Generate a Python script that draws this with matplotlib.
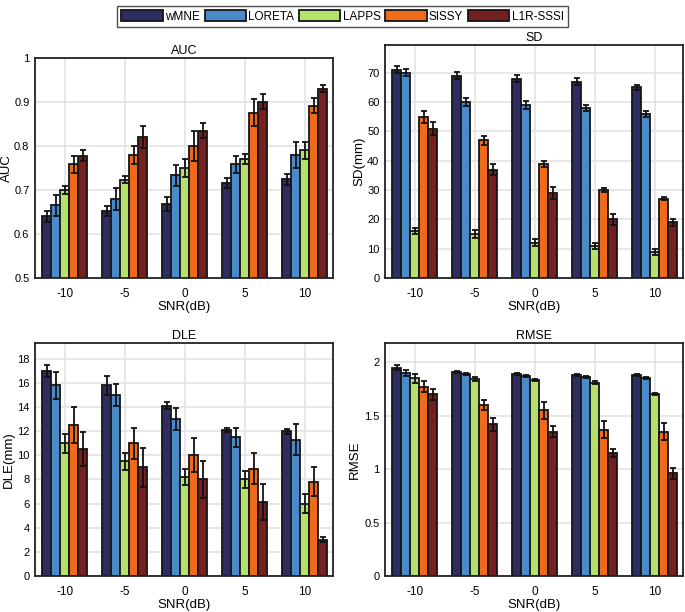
import numpy as np
import matplotlib
matplotlib.use("Agg")
import matplotlib.pyplot as plt
from matplotlib.patches import Patch

plt.rcParams['font.family'] = ['Liberation Sans', 'DejaVu Sans']
plt.rcParams['font.size'] = 8

methods = ["wMNE", "LORETA", "LAPPS", "SISSY", "L1R-SSSI"]
colors = ["#2d2d63", "#4a8ac8", "#b4e06b", "#f06a1c", "#761f1f"]
snr = ["-10", "-5", "0", "5", "10"]

# rows = methods, columns = SNR levels
auc = [[0.640, 0.652, 0.668, 0.716, 0.724],
       [0.665, 0.680, 0.733, 0.758, 0.780],
       [0.700, 0.723, 0.750, 0.770, 0.790],
       [0.758, 0.780, 0.800, 0.876, 0.892],
       [0.778, 0.820, 0.835, 0.901, 0.930]]
auc_err = [[0.012, 0.012, 0.015, 0.012, 0.013],
           [0.023, 0.025, 0.023, 0.020, 0.030],
           [0.008, 0.008, 0.020, 0.012, 0.020],
           [0.020, 0.020, 0.035, 0.030, 0.018],
           [0.012, 0.025, 0.017, 0.018, 0.008]]

sd = [[71, 69, 68, 67, 65],
      [70, 60, 59, 58, 56],
      [16, 15, 12, 11, 9],
      [55, 47, 39, 30, 27],
      [51, 37, 29, 20, 19]]
sd_err = [[1.2, 1.2, 1.2, 1.2, 1.0],
          [1.2, 1.3, 1.3, 1.0, 1.0],
          [1.0, 1.5, 1.2, 1.0, 1.0],
          [2.0, 1.5, 1.0, 0.8, 0.5],
          [2.2, 1.8, 2.2, 2.0, 1.2]]

dle = [[17.0, 15.8, 14.1, 12.1, 12.0],
       [15.8, 15.0, 13.0, 11.5, 11.3],
       [11.0, 9.5, 8.2, 8.0, 6.0],
       [12.5, 11.0, 10.0, 8.9, 7.8],
       [10.5, 9.0, 8.0, 6.1, 3.0]]
dle_err = [[0.5, 0.8, 0.3, 0.2, 0.2],
           [1.1, 0.9, 0.9, 0.8, 1.3],
           [0.8, 0.7, 0.7, 0.7, 0.8],
           [1.5, 1.3, 1.4, 1.3, 1.2],
           [1.4, 1.6, 1.5, 1.5, 0.2]]

rmse = [[1.95, 1.91, 1.89, 1.88, 1.88],
        [1.90, 1.89, 1.87, 1.86, 1.85],
        [1.85, 1.84, 1.83, 1.81, 1.70],
        [1.77, 1.60, 1.55, 1.37, 1.35],
        [1.70, 1.42, 1.35, 1.15, 0.96]]
rmse_err = [[0.02, 0.01, 0.01, 0.01, 0.01],
            [0.03, 0.01, 0.01, 0.01, 0.01],
            [0.04, 0.02, 0.01, 0.01, 0.01],
            [0.05, 0.05, 0.08, 0.08, 0.08],
            [0.05, 0.06, 0.05, 0.04, 0.05]]

fig = plt.figure(figsize=(6.85, 6.12), dpi=100)
W, H = 685, 612

def px_axes(l, t, r, b):
    return fig.add_axes([l / W, 1 - b / H, (r - l) / W, (b - t) / H])

panels = [
    ("AUC", "AUC", auc, auc_err, (0.5, 1.0), np.arange(0.5, 1.01, 0.1), (35, 58, 333, 278), 22),
    ("SD", "SD(mm)", sd, sd_err, (0, 79.5), np.arange(0, 71, 10), (385, 45, 683, 278), 20),
    ("DLE", "DLE(mm)", dle, dle_err, (0, 19.3), np.arange(0, 19, 2), (35, 343, 333, 576), 20),
    ("RMSE", "RMSE", rmse, rmse_err, (0, 2.18), np.arange(0, 2.01, 0.5), (385, 343, 683, 576), 24),
]

x = np.arange(len(snr))
bw = 0.15
for title, ylab, vals, errs, ylim, yt, box, lab_off in panels:
    ax = px_axes(*box)
    ax.set_axisbelow(True)
    ax.grid(True, color="#e3e3e3", lw=1.2)
    for i in range(len(methods)):
        ax.bar(x + (i - 2) * bw, vals[i], bw, yerr=errs[i], color=colors[i],
               edgecolor="#151515", linewidth=1.3, capsize=2.5,
               error_kw=dict(elinewidth=1.3, capthick=1.3, ecolor="#111111"))
    ax.set_xlim(-0.5, 4.47)
    ax.set_ylim(*ylim)
    ax.set_yticks(yt)
    ax.set_yticklabels(["%g" % v for v in yt])
    ax.set_xticks(x)
    ax.set_xticklabels(snr)
    ax.tick_params(axis="y", length=0, pad=4, labelsize=8)
    ax.tick_params(axis="x", length=0, pad=7, labelsize=8.5)
    for s in ax.spines.values():
        s.set_linewidth(1.3)
        s.set_color("#222222")
    ax.set_title(title, fontsize=9, pad=3)
    ax.set_ylabel(ylab, fontsize=9.5)
    ax.yaxis.set_label_coords(-lab_off / (box[2] - box[0]), 0.5)
    ax.set_xlabel("SNR(dB)", fontsize=9.5, labelpad=1)

handles = [Patch(facecolor=c, edgecolor="#151515", linewidth=1.3) for c in colors]
fig.legend(handles, methods, loc="upper center", bbox_to_anchor=(0.5, 1.0), ncol=5,
           frameon=True, fancybox=False, edgecolor="#222222", handlelength=3.5,
           handleheight=1.1, handletextpad=0.2, columnspacing=0.4, borderpad=0.35,
           fontsize=8.5)

fig.savefig("out.png", dpi=100)
